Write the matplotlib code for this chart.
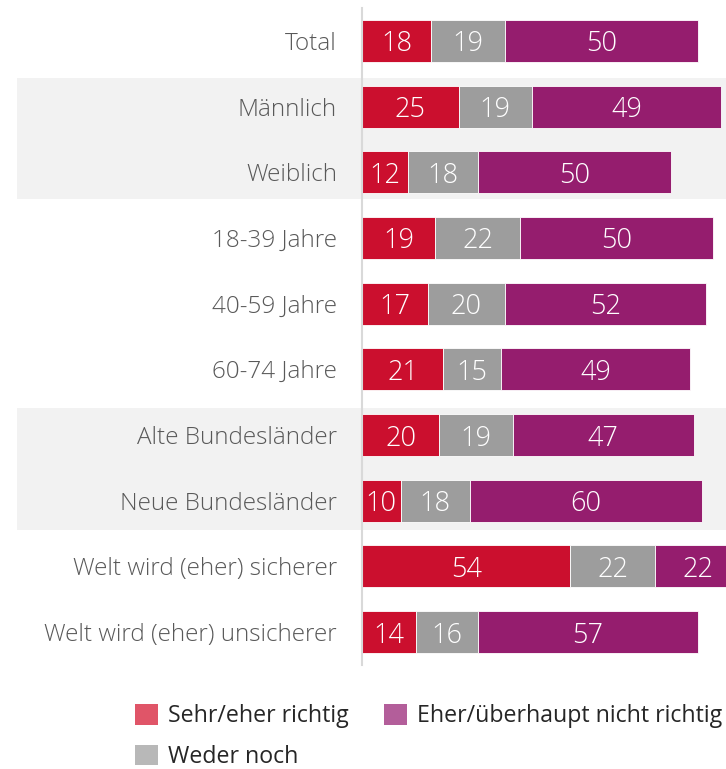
import matplotlib
matplotlib.use("Agg")
import matplotlib.pyplot as plt
from matplotlib.patches import Rectangle, Patch
import matplotlib.transforms as mtransforms

categories = ["Total", "Männlich", "Weiblich", "18-39 Jahre", "40-59 Jahre",
              "60-74 Jahre", "Alte Bundesländer", "Neue Bundesländer",
              "Welt wird (eher) sicherer", "Welt wird (eher) unsicherer"]
sehr_eher = [18, 25, 12, 19, 17, 21, 20, 10, 54, 14]
weder_noch = [19, 19, 18, 22, 20, 15, 19, 18, 22, 16]
eher_nicht = [50, 49, 50, 50, 52, 49, 47, 60, 22, 57]
series_names = ["Sehr/eher richtig", "Weder noch", "Eher/überhaupt nicht richtig"]

c_red, c_gray, c_purple = "#CB0F2E", "#9D9D9D", "#951D6E"
l_red, l_gray, l_purple = "#E05568", "#B8B8B8", "#B35E9A"

plt.rcParams['font.family'] = ['Open Sans', 'DejaVu Sans']

fig = plt.figure(figsize=(7.26, 7.69), dpi=100)
W, H = 726, 769
ax = fig.add_axes([362 / W, 1 - 665 / H, (W - 362) / W, (665 - 8) / H])

y = list(range(len(categories)))
h = 0.64
ax.barh(y, sehr_eher, height=h, color=c_red, edgecolor="white", linewidth=0.6)
ax.barh(y, weder_noch, left=sehr_eher, height=h, color=c_gray, edgecolor="white", linewidth=0.6)
left3 = [a + b for a, b in zip(sehr_eher, weder_noch)]
ax.barh(y, eher_nicht, left=left3, height=h, color=c_purple, edgecolor="white", linewidth=0.6)

for i in y:
    for val, lft in ((sehr_eher[i], 0), (weder_noch[i], sehr_eher[i]), (eher_nicht[i], left3[i])):
        ax.text(lft + val / 2, i, str(val), ha="center", va="center_baseline",
                color="white", fontsize=19.5, fontweight="light")

ax.set_xlim(0, 94.3)
ax.set_ylim(9.5, -0.5)

# shaded bands
trans = mtransforms.blended_transform_factory(ax.transAxes, ax.transData)
x0 = (17 - 362) / (W - 362)
for (a, b) in ((0.57, 2.41), (5.59, 7.45)):
    r = Rectangle((x0, a), 1 - x0, b - a, transform=trans, facecolor="#F2F2F2",
                  edgecolor="none", clip_on=False, zorder=0)
    ax.add_patch(r)
ax.set_zorder(1)
ax.patch.set_visible(False)

ax.set_yticks(y)
ax.set_yticklabels(categories, fontsize=17.5, color="#595959", fontweight="light")
ax.tick_params(axis="y", length=0, pad=18)
ax.set_xticks([])
for s in ("top", "right", "bottom"):
    ax.spines[s].set_visible(False)
ax.spines["left"].set_color("#D9D9D9")
ax.spines["left"].set_linewidth(1.5)

handles = [Patch(facecolor=l_red), Patch(facecolor=l_gray), Patch(facecolor=l_purple)]
leg = fig.legend(handles, series_names, ncol=2, loc="upper left",
                 bbox_to_anchor=(135 / W, 1 - 704 / H), frameon=False,
                 fontsize=16.7, handlelength=1.0, handleheight=1.0, handletextpad=0.43,
                 columnspacing=1.5, labelspacing=0.7, borderaxespad=0, borderpad=0)
for t in leg.get_texts():
    t.set_color("#262626")

fig.savefig("out.png", dpi=100)
